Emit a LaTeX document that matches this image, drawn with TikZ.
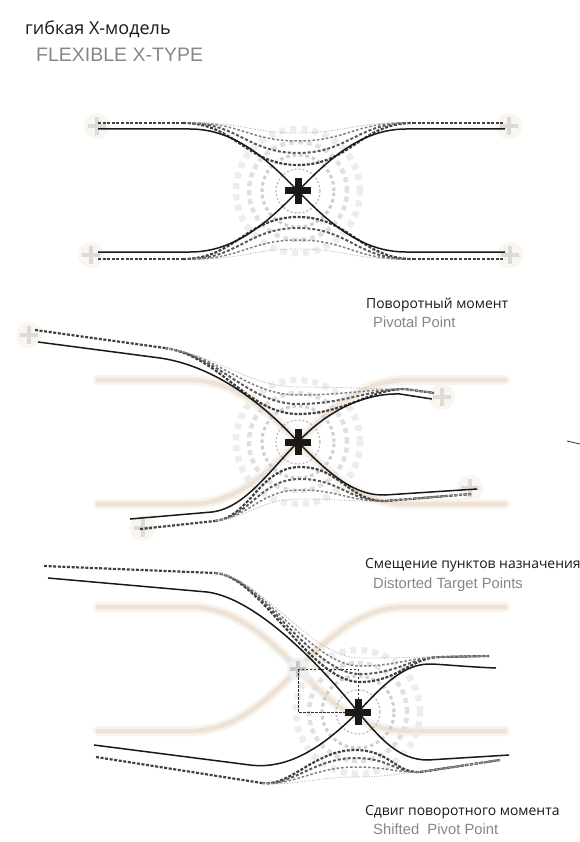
\documentclass[tikz,border=0pt]{standalone}
\usepackage{fontspec}
\setmainfont{Open Sans}
\newfontfamily\engfont{Liberation Sans}
\definecolor{halo}{RGB}{251,245,240}
\definecolor{bandout}{RGB}{249,243,237}
\definecolor{bandin}{RGB}{238,226,214}
\definecolor{engray}{RGB}{135,135,135}
\begin{document}
\begin{tikzpicture}[x=1pt,y=-1pt,
  solidline/.style={line width=1.5pt, black!90},
  dashA/.style={line width=2.2pt, black!75, dash pattern=on 3pt off 1.6pt},
  dashB/.style={line width=2pt, black!65, dash pattern=on 3pt off 2pt},
  dashC/.style={line width=1.5pt, black!50, dash pattern=on 2.5pt off 2pt},
  dotD/.style={line width=0.8pt, black!30, dash pattern=on 1pt off 1.5pt},
  ruslabel/.style={anchor=base west, inner sep=0pt, font=\fontsize{13.9}{16}\selectfont, text=black!90},
  englabel/.style={anchor=base west, inner sep=0pt, font=\engfont\fontsize{14.8}{17}\selectfont, text=engray},
  bigplus/.pic={\fill[black!90] (-13,-3.5) rectangle (13,3.5); \fill[black!90] (-3.5,-13) rectangle (3.5,13);},
  endmark/.pic={\fill[halo] (0,0) circle (13pt); \fill[gray!28] (-9,-2) rectangle (9,2); \fill[gray!28] (-2,-9) rectangle (2,9);},
  ringset/.pic={
    \draw[gray!14, line width=6.5pt, dash pattern=on 6pt off 5pt] (0,0) circle (62pt);
    \draw[gray!24, line width=4.5pt, dash pattern=on 5pt off 4pt] (0,0) circle (49pt);
    \draw[gray!38, line width=3pt, dash pattern=on 3.5pt off 3pt] (0,0) circle (36pt);
    \draw[gray!55, line width=1.2pt, dash pattern=on 2pt off 2pt] (0,0) circle (22pt);},
  ghostx/.pic={
    \foreach \w/\c in {10pt/bandout, 4.5pt/bandin}{
      \draw[line width=\w, color=\c, line cap=round] (-200,-62) -- (-108,-62) .. controls (-63,-62) and (-30,-31) .. (0,0) .. controls (30,31) and (63,62) .. (108,62) -- (207,62);
      \draw[line width=\w, color=\c, line cap=round] (-200,62) -- (-108,62) .. controls (-63,62) and (-30,31) .. (0,0) .. controls (30,-31) and (63,-62) .. (108,-62) -- (207,-62);}
  }]
\useasboundingbox (0,0) rectangle (580,842);
\fill[white] (0,0) rectangle (580,842);

% ---------------- titles
\node[anchor=base west, inner sep=0pt, font=\fontsize{18}{21}\selectfont, text=black!90] (t1) at (25,35) {гибкая X-модель};
\node[anchor=base west, inner sep=0pt, font=\engfont\fontsize{19.5}{22}\selectfont, text=engray] (t2) at (36,62) {FLEXIBLE X-TYPE};

% ---------------- panel 1
\coordinate (c1) at (298,191);
\pic at (c1) {ringset};
\pic at (97,126) {endmark};
\pic at (509,126) {endmark};
\pic at (91,255) {endmark};
\pic at (510,255) {endmark};
\draw[dashA] (98,123) -- (183,123);
\draw[dashA] (413,123) -- (505,123);
\foreach \yd/\w/\st in {165/115/dashA, 153/110/dashB, 141/105/dashC, 133/100/dotD}
  \draw[style=\st] ({298-\w},123) .. controls ({298-0.55*\w},123) and ({298-0.45*\w},\yd) .. (298,\yd) .. controls ({298+0.45*\w},\yd) and ({298+0.55*\w},123) .. ({298+\w},123);
\draw[dashA] (98,259) -- (183,259);
\draw[dashA] (413,259) -- (505,259);
\foreach \yd/\w/\st in {217/115/dashA, 228/110/dashB, 240/105/dashC, 249/100/dotD}
  \draw[style=\st] ({298-\w},259) .. controls ({298-0.55*\w},259) and ({298-0.45*\w},\yd) .. (298,\yd) .. controls ({298+0.45*\w},\yd) and ({298+0.55*\w},259) .. ({298+\w},259);
\draw[solidline] (98,129) -- (190,129) .. controls (235,129) and (268,160) .. (c1) .. controls (328,222) and (361,252) .. (406,252) -- (505,252);
\draw[solidline] (98,252) -- (190,252) .. controls (235,252) and (268,222) .. (c1) .. controls (328,160) and (361,129) .. (406,129) -- (505,129);
\pic at (c1) {bigplus};

% ---------------- panel 2
\node[ruslabel] (l1) at (366,308) {Поворотный момент};
\node[englabel] (l2) at (373,327) {Pivotal Point};
\coordinate (c2) at (298,442);
\pic at (c2) {ghostx};
\pic at (c2) {ringset};
\pic at (29,335) {endmark};
\pic at (143,528) {endmark};
\pic at (442,397) {endmark};
\pic at (470,488) {endmark};
\draw[dashA] (35,330) -- (165,348);
\foreach \yd/\st in {414/dashA, 404/dashB, 395/dashC, 387/dotD}
  \draw[style=\st] (165,348) .. controls (220,356) and (248,\yd) .. (298,\yd) .. controls (345,\yd) and (370,389) .. (405,389) -- (434,393);
\draw[dashA] (140,529) -- (215,521);
\foreach \yp/\st in {467/dashA, 479/dashB, 490/dashC, 499/dotD}
  \draw[style=\st] (215,521) .. controls (250,517) and (260,\yp) .. (300,\yp) .. controls (340,\yp) and (350,502) .. (385,501) -- (471,494);
\draw[solidline] (38,342) -- (160,358) .. controls (215,366) and (265,405) .. (c2) .. controls (330,475) and (355,496) .. (385,495) -- (477,489);
\draw[solidline] (130,519) -- (212,512) .. controls (245,508) and (270,470) .. (c2) .. controls (328,410) and (365,393) .. (400,394) -- (432,399);
\pic at (c2) {bigplus};
\coordinate (m1) at (567,441);
\coordinate (m2) at (580,444);
\draw[black!80, line width=0.8pt] (m1) -- (m2);

% ---------------- panel 3
\node[ruslabel] (l3) at (365,568) {Смещение пунктов назначения};
\node[englabel] (l4) at (373,588) {Distorted Target Points};
\coordinate (g3) at (298,669);
\coordinate (c3) at (358,712);
\pic at (g3) {ghostx};
\fill[gray!12] (g3) circle (11pt);
\fill[gray!45] ([xshift=-8pt,yshift=-2pt]g3) rectangle ([xshift=8pt,yshift=2pt]g3);
\fill[gray!45] ([xshift=-2pt,yshift=-8pt]g3) rectangle ([xshift=2pt,yshift=8pt]g3);
\pic at (c3) {ringset};
\draw[dashA] (44,566) -- (215,573);
\foreach \yd/\st in {682/dashA, 674/dashB, 666/dashC, 658/dotD}
  \draw[style=\st] (215,573) .. controls (260,575) and (310,\yd) .. (360,\yd) .. controls (397,\yd) and (412,657) .. (440,657) -- (489,656);
\draw[dashA] (96,757) -- (262,783);
\foreach \yp/\st in {750/dashA, 758/dashB, 767/dashC, 777/dotD}
  \draw[style=\st] (262,783) .. controls (290,787) and (315,\yp) .. (355,\yp) .. controls (390,\yp) and (395,773) .. (420,772) -- (500,760);
\draw[black!80, line width=0.6pt, dash pattern=on 2.5pt off 1.5pt] (g3) rectangle (c3);
\draw[solidline] (48,578) -- (207,592) .. controls (255,598) and (318,662) .. (c3) .. controls (380,738) and (398,760) .. (428,760) -- (509,755);
\draw[solidline] (94,745) -- (250,765) .. controls (290,770) and (325,745) .. (c3) .. controls (385,683) and (405,663) .. (432,664) .. controls (450,665) and (470,667) .. (496,668);
\pic at (c3) {bigplus};
\node[ruslabel] (l5) at (365,815) {Сдвиг поворотного момента};
\node[englabel] (l6) at (373,834) {Shifted\ \ Pivot Point};
\end{tikzpicture}
\end{document}
